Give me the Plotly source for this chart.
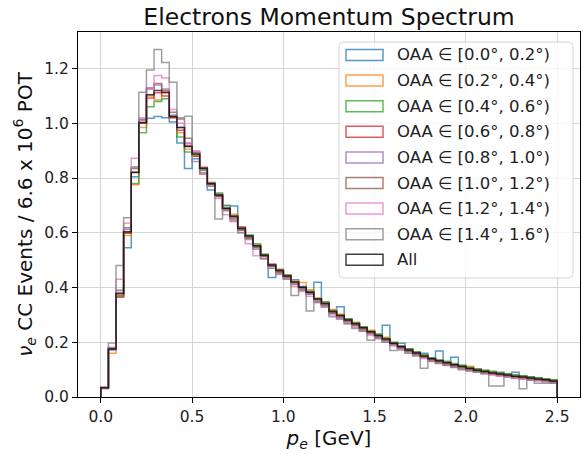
import numpy as np
import plotly.graph_objects as go

# ---------------- data ----------------
bin_low, bin_high, n_bins = 0.0, 2.5, 60

series_names = [
    "OAA ∈ [0.0°, 0.2°)", "OAA ∈ [0.2°, 0.4°)", "OAA ∈ [0.4°, 0.6°)",
    "OAA ∈ [0.6°, 0.8°)", "OAA ∈ [0.8°, 1.0°)", "OAA ∈ [1.0°, 1.2°)",
    "OAA ∈ [1.2°, 1.4°)", "OAA ∈ [1.4°, 1.6°)", "All",
]

oaa_00_02 = [0.035, 0.172, 0.372, 0.545, 0.805, 1.000, 1.018, 1.025, 1.020, 1.005,
             0.928, 0.835, 0.870, 0.828, 0.756, 0.735, 0.700, 0.698, 0.622, 0.590,
             0.552, 0.520, 0.437, 0.460, 0.445, 0.428, 0.404, 0.386, 0.419, 0.345,
             0.318, 0.330, 0.285, 0.270, 0.257, 0.240, 0.230, 0.262, 0.198, 0.196,
             0.175, 0.163, 0.160, 0.143, 0.168, 0.130, 0.145, 0.115, 0.108, 0.102,
             0.098, 0.092, 0.090, 0.085, 0.090, 0.078, 0.074, 0.070, 0.066, 0.062]
oaa_02_04 = [0.033, 0.160, 0.372, 0.590, 0.775, 0.985, 1.100, 1.085, 1.110, 1.020,
             0.965, 0.905, 0.880, 0.840, 0.785, 0.742, 0.690, 0.668, 0.620, 0.584,
             0.556, 0.520, 0.480, 0.468, 0.447, 0.425, 0.418, 0.392, 0.362, 0.345,
             0.320, 0.302, 0.283, 0.272, 0.255, 0.244, 0.226, 0.218, 0.199, 0.186,
             0.176, 0.164, 0.153, 0.142, 0.134, 0.128, 0.120, 0.113, 0.112, 0.100,
             0.097, 0.090, 0.086, 0.082, 0.078, 0.075, 0.071, 0.068, 0.065, 0.060]
oaa_04_06 = [0.034, 0.178, 0.368, 0.598, 0.780, 0.965, 1.060, 1.080, 1.090, 1.025,
             0.950, 0.895, 0.885, 0.832, 0.782, 0.745, 0.700, 0.662, 0.612, 0.592,
             0.560, 0.522, 0.478, 0.465, 0.445, 0.418, 0.400, 0.385, 0.360, 0.348,
             0.315, 0.300, 0.286, 0.272, 0.256, 0.240, 0.228, 0.215, 0.200, 0.187,
             0.176, 0.165, 0.154, 0.143, 0.136, 0.130, 0.122, 0.116, 0.108, 0.103,
             0.097, 0.094, 0.089, 0.085, 0.081, 0.078, 0.074, 0.070, 0.067, 0.063]
oaa_06_08 = [0.036, 0.176, 0.364, 0.600, 0.822, 1.000, 1.092, 1.112, 1.100, 1.020,
             0.975, 0.918, 0.880, 0.815, 0.780, 0.735, 0.688, 0.655, 0.618, 0.585,
             0.550, 0.515, 0.485, 0.458, 0.440, 0.418, 0.398, 0.380, 0.355, 0.340,
             0.310, 0.296, 0.280, 0.266, 0.250, 0.236, 0.222, 0.210, 0.195, 0.182,
             0.170, 0.160, 0.148, 0.139, 0.130, 0.124, 0.116, 0.110, 0.103, 0.097,
             0.092, 0.087, 0.083, 0.079, 0.075, 0.072, 0.068, 0.065, 0.062, 0.057]
oaa_08_10 = [0.034, 0.176, 0.382, 0.612, 0.835, 1.010, 1.130, 1.140, 1.125, 1.030,
             0.985, 0.925, 0.892, 0.838, 0.782, 0.740, 0.690, 0.658, 0.612, 0.582,
             0.548, 0.516, 0.485, 0.462, 0.440, 0.418, 0.398, 0.380, 0.356, 0.338,
             0.308, 0.292, 0.276, 0.262, 0.248, 0.233, 0.220, 0.207, 0.192, 0.180,
             0.168, 0.157, 0.146, 0.136, 0.128, 0.120, 0.113, 0.106, 0.099, 0.094,
             0.089, 0.084, 0.080, 0.076, 0.072, 0.069, 0.065, 0.062, 0.059, 0.055]
oaa_10_12 = [0.033, 0.180, 0.390, 0.618, 0.840, 1.015, 1.125, 1.145, 1.120, 1.040,
             1.016, 0.945, 0.895, 0.835, 0.775, 0.732, 0.684, 0.650, 0.608, 0.580,
             0.545, 0.512, 0.478, 0.455, 0.436, 0.412, 0.393, 0.375, 0.350, 0.335,
             0.305, 0.290, 0.274, 0.260, 0.245, 0.230, 0.218, 0.205, 0.190, 0.178,
             0.166, 0.155, 0.144, 0.134, 0.126, 0.119, 0.112, 0.105, 0.098, 0.092,
             0.087, 0.082, 0.078, 0.074, 0.070, 0.067, 0.063, 0.060, 0.057, 0.053]
oaa_12_14 = [0.032, 0.182, 0.430, 0.635, 0.872, 1.020, 1.125, 1.175, 1.165, 1.050,
             1.000, 0.930, 0.900, 0.835, 0.770, 0.725, 0.666, 0.640, 0.600, 0.560,
             0.516, 0.505, 0.470, 0.448, 0.432, 0.405, 0.385, 0.368, 0.345, 0.328,
             0.300, 0.285, 0.268, 0.255, 0.240, 0.225, 0.212, 0.200, 0.186, 0.174,
             0.162, 0.152, 0.141, 0.131, 0.123, 0.116, 0.109, 0.102, 0.096, 0.090,
             0.085, 0.080, 0.076, 0.072, 0.068, 0.065, 0.061, 0.058, 0.055, 0.051]
oaa_14_16 = [0.030, 0.197, 0.480, 0.655, 0.835, 1.113, 1.195, 1.270, 1.222, 1.150,
             1.020, 1.026, 0.860, 0.820, 0.770, 0.650, 0.680, 0.645, 0.600, 0.575,
             0.540, 0.505, 0.470, 0.450, 0.430, 0.371, 0.390, 0.314, 0.345, 0.330,
             0.293, 0.285, 0.268, 0.250, 0.240, 0.207, 0.215, 0.200, 0.170, 0.172,
             0.160, 0.150, 0.105, 0.130, 0.122, 0.115, 0.108, 0.100, 0.095, 0.090,
             0.085, 0.040, 0.040, 0.075, 0.070, 0.030, 0.062, 0.050, 0.050, 0.050]
all_oaa = [0.034, 0.175, 0.378, 0.604, 0.820, 1.003, 1.104, 1.120, 1.113, 1.025,
           0.985, 0.915, 0.888, 0.836, 0.779, 0.738, 0.690, 0.660, 0.616, 0.588,
           0.553, 0.518, 0.482, 0.462, 0.442, 0.420, 0.401, 0.383, 0.358, 0.342,
           0.312, 0.298, 0.281, 0.268, 0.253, 0.238, 0.225, 0.212, 0.196, 0.184,
           0.172, 0.161, 0.150, 0.140, 0.132, 0.125, 0.118, 0.111, 0.104, 0.098,
           0.093, 0.088, 0.084, 0.080, 0.076, 0.073, 0.069, 0.066, 0.063, 0.058]

series_values = [oaa_00_02, oaa_02_04, oaa_04_06, oaa_06_08, oaa_08_10,
                 oaa_10_12, oaa_12_14, oaa_14_16, all_oaa]
series_colors = ["rgba(31,119,180,0.75)", "rgba(255,127,14,0.75)", "rgba(44,160,44,0.75)",
                 "rgba(214,39,40,0.75)", "rgba(148,103,189,0.75)", "rgba(140,86,75,0.75)",
                 "rgba(227,119,194,0.75)", "rgba(127,127,127,0.75)", "rgba(0,0,0,0.75)"]

x_ticks = [0.0, 0.5, 1.0, 1.5, 2.0, 2.5]
y_ticks = [0.0, 0.2, 0.4, 0.6, 0.8, 1.0, 1.2]

# ---------------- figure ----------------
FONT = "DejaVu Sans"
W, H = 583, 454
ML, MR, MT, MB = 78, 3, 32, 57
PW, PH = W - ML - MR, H - MT - MB

edges = np.linspace(bin_low, bin_high, n_bins + 1)

fig = go.Figure()
for name, vals, col in zip(series_names, series_values, series_colors):
    xs = [edges[0]] + list(edges[:-1]) + [edges[-1]]
    ys = [0.0] + list(vals) + [0.0]
    fig.add_trace(go.Scatter(x=xs, y=ys, mode="lines", name=name,
                             line=dict(color=col, width=1.5, shape="hv"),
                             showlegend=False, hoverinfo="skip"))

ymax = max(max(v) for v in series_values) * 1.05

axis_common = dict(showline=True, linecolor="#000000", linewidth=1, mirror=True,
                   ticks="outside", ticklen=5, tickcolor="#000000", tickwidth=1,
                   showgrid=True, gridcolor="#d6d6d6", gridwidth=1, zeroline=False,
                   tickfont=dict(family=FONT, size=15.5, color="#222222"))

fig.update_layout(
    width=W, height=H,
    margin=dict(l=ML, r=MR, t=MT, b=MB),
    paper_bgcolor="white", plot_bgcolor="white",
    title=dict(text="Electrons Momentum Spectrum", x=(ML + PW / 2) / W, xanchor="center",
               y=1 - 17 / H, yanchor="middle",
               font=dict(family=FONT, size=23.5, color="#111111")),
    xaxis=dict(range=[-0.125, 2.625], tickvals=x_ticks,
               ticktext=[f"{t:.1f}" for t in x_ticks],
               title=dict(text="<i>p</i><sub><i>e</i></sub> [GeV]", standoff=6,
                          font=dict(family=FONT, size=20, color="#111111")),
               **axis_common),
    yaxis=dict(range=[0, ymax], tickvals=y_ticks,
               ticktext=[f"{t:.1f}" for t in y_ticks],
               title=dict(text="<i>ν</i><sub><i>e</i></sub> CC Events / 6.6 x 10<sup>6</sup> POT",
                          standoff=6, font=dict(family=FONT, size=20, color="#111111")),
               **axis_common),
)

# ---------------- legend (matplotlib-style outlined patches) ----------------
def px2paper(px, py):
    return (px - ML) / PW, (H - MB - py) / PH

box_l, box_r, box_t, box_b, rad = 339, 573, 42, 278, 4
def rounded_path(l, r, t, b, rr):
    x0, y0 = px2paper(l, b)
    x1, y1 = px2paper(r, t)
    rx, ry = rr / PW, rr / PH
    return (f"M {x0+rx} {y0} L {x1-rx} {y0} Q {x1} {y0} {x1} {y0+ry} "
            f"L {x1} {y1-ry} Q {x1} {y1} {x1-rx} {y1} L {x0+rx} {y1} "
            f"Q {x0} {y1} {x0} {y1-ry} L {x0} {y0+ry} Q {x0} {y0} {x0+rx} {y0} Z")

shapes = [dict(type="path", xref="paper", yref="paper",
               path=rounded_path(box_l, box_r, box_t, box_b, rad),
               line=dict(color="#d4d4d4", width=1), fillcolor="rgba(255,255,255,0.8)",
               layer="above")]
annotations = []
row0, row_step = 55, 25.6
for i, (name, col) in enumerate(zip(series_names, series_colors)):
    cy = row0 + i * row_step
    x0, y0 = px2paper(346, cy + 5.5)
    x1, y1 = px2paper(383, cy - 5.5)
    shapes.append(dict(type="rect", xref="paper", yref="paper", x0=x0, x1=x1, y0=y0, y1=y1,
                       line=dict(color=col, width=1.5), fillcolor="rgba(0,0,0,0)",
                       layer="above"))
    tx, ty = px2paper(395, cy)
    annotations.append(dict(xref="paper", yref="paper", x=tx, y=ty, text=name,
                            showarrow=False, xanchor="left", yanchor="middle",
                            font=dict(family=FONT, size=16.5, color="#222222")))

fig.update_layout(shapes=shapes, annotations=annotations)

fig.write_html("out.html")
